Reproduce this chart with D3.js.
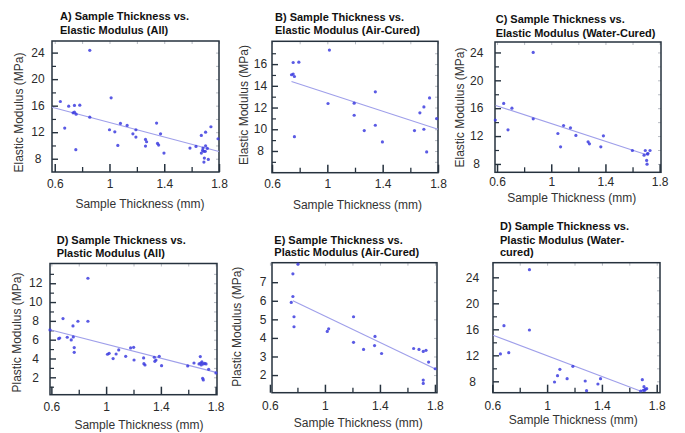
<!DOCTYPE html>
<html>
<head>
<meta charset="utf-8">
<script src="https://cdn.jsdelivr.net/npm/d3@7"></script>
<style>
  html, body { margin: 0; padding: 0; background: #fff; }
  svg { display: block; font-family: "Liberation Sans", Arial, sans-serif; }
</style>
</head>
<body>
<svg id="chart" width="685" height="433"></svg>
<script>
// ---------------- DATA ----------------
const xTickValues = [0.6, 1.0, 1.4, 1.8];
const xTickLabels = ["0.6", "1", "1.4", "1.8"];
const xMinorTicks = [0.8, 1.2, 1.6];

// A) Elastic modulus, all samples
const thickA = [0.856,0.641,0.673,0.702,0.744,0.783,0.734,0.744,0.756,0.754,0.856,1.012,1.000,1.039,1.061,1.080,1.129,1.171,1.193,1.193,1.263,1.271,1.263,1.344,1.351,1.359,1.373,1.398,1.588,1.632,1.671,1.702,1.741,1.793,1.671,1.683,1.702,1.715,1.690,1.700,1.693,1.690,1.722,1.680];
const elasticA = [24.35,16.63,12.62,15.93,16.03,16.08,14.92,15.02,14.72,9.36,14.27,17.18,12.37,12.06,10.01,13.32,13.02,11.76,12.37,11.26,10.91,10.56,9.91,13.37,10.31,10.06,11.76,8.85,9.61,9.86,11.51,12.01,12.82,11.01,8.85,9.61,9.96,9.56,9.11,9.11,8.10,7.50,7.90,9.26];
const fitA = [[0.58, 15.75], [1.8, 9.1]];

// B) Elastic modulus, air-cured
const thickB = [0.753,0.794,1.015,0.741,0.753,0.762,0.762,1.005,1.194,1.194,1.347,1.347,1.267,1.398,1.630,1.698,1.669,1.698,1.739,1.790,1.718];
const elasticB = [16.15,16.18,17.29,15.02,15.08,14.86,9.32,12.37,12.40,11.29,13.45,10.37,9.88,8.83,9.88,10.00,11.51,12.06,12.89,10.98,7.91];
const fitB = [[0.741, 14.4], [1.8, 10.0]];

// C) Elastic modulus, water-cured
const thickC = [0.867,0.649,0.710,0.587,0.681,0.867,1.091,1.142,1.049,1.182,1.069,1.272,1.282,1.366,1.385,1.599,1.685,1.694,1.714,1.729,1.704,1.707,1.709];
const elasticC = [24.0,16.68,16.01,14.29,12.90,14.48,13.52,13.19,12.37,12.09,10.46,11.18,10.89,10.46,12.04,9.93,9.26,9.93,9.50,9.93,8.50,7.97,9.45];
const fitC = [[0.59, 16.4], [1.72, 9.2]];

// D) Plastic modulus, all samples
const thickD = [0.867,0.685,0.794,0.867,0.758,0.590,0.653,0.661,0.716,0.745,0.760,0.767,0.767,1.010,1.022,1.051,1.073,1.092,1.143,1.179,1.201,1.204,1.274,1.276,1.284,1.352,1.364,1.356,1.388,1.405,1.596,1.642,1.688,1.679,1.691,1.700,1.710,1.720,1.730,1.705,1.710,1.749,1.802,1.695];
const plasticD = [12.53,8.24,7.96,7.96,7.46,7.04,6.11,6.18,6.26,5.97,6.29,5.16,4.66,4.45,4.55,3.99,4.48,4.91,4.23,5.12,5.19,3.84,4.06,3.45,3.31,4.13,3.84,3.70,4.23,3.24,3.21,3.52,4.20,3.42,3.52,3.63,3.42,3.49,3.42,1.89,1.72,2.85,2.46,3.31];
const fitD = [[0.59, 7.05], [1.81, 2.5]];

// E) Plastic modulus, air-cured
const thickE = [0.804,0.767,0.767,0.755,0.775,0.775,1.017,1.027,1.208,1.208,1.281,1.364,1.361,1.412,1.645,1.684,1.715,1.735,1.754,1.802,1.715,1.715];
const plasticE = [7.97,7.45,6.23,5.91,5.14,4.60,4.35,4.49,5.14,3.76,3.38,4.08,3.59,3.16,3.43,3.38,3.27,3.33,2.70,2.34,1.73,1.55];
const fitE = [[0.767, 6.0], [1.8, 2.34]];

// F) Plastic modulus, water-cured
const thickF = [0.871,0.871,0.685,0.659,0.720,1.093,1.076,1.054,1.146,1.188,1.278,1.288,1.371,1.390,1.695,1.683,1.707,1.717,1.702,1.727,1.712];
const plasticF = [25.18,15.90,16.56,12.21,12.41,9.85,8.87,7.90,8.41,10.31,8.05,6.56,7.59,8.41,8.26,6.51,7.18,6.82,6.62,6.87,6.62];
const fitF = [[0.605, 15.1], [1.68, 6.5]];

// y ticks
const yTicksElasticWide = [8, 12, 16, 20, 24];
const yMinorElasticWide = [10, 14, 18, 22];
const yTicksElasticAir = [8, 10, 12, 14, 16];
const yMinorElasticAir = [7, 9, 11, 13, 15, 17];
const yTicksPlasticAll = [2, 4, 6, 8, 10, 12];
const yMinorPlasticAll = [1, 3, 5, 7, 9, 11, 13];
const yTicksPlasticAir = [2, 3, 4, 5, 6, 7];
const yMinorPlasticAir = [];

// titles / labels
const titlesA = ["A) Sample Thickness vs.", "Elastic Modulus (All)"];
const titlesB = ["B) Sample Thickness vs.", "Elastic Modulus (Air-Cured)"];
const titlesC = ["C) Sample Thickness vs.", "Elastic Modulus (Water-Cured)"];
const titlesD = ["D) Sample Thickness vs.", "Plastic Modulus (All)"];
const titlesE = ["E) Sample Thickness vs.", "Plastic Modulus (Air-Cured)"];
const titlesF = ["D) Sample Thickness vs.", "Plastic Modulus (Water-", "cured)"];
const xAxisTitle = "Sample Thickness (mm)";
const yTitleElastic = "Elastic Modulus (MPa)";
const yTitlePlastic = "Plastic Modulus (MPa)";

// ---------------- LAYOUT ----------------
const panels = [
  { xs: thickA, ys: elasticA, fit: fitA, titles: titlesA, yTitle: yTitleElastic,
    box: [52, 41, 219, 172], xDom: [0.58, 1.8], yDom: [6.0, 25.75],
    yMajor: yTicksElasticWide, yMinor: yMinorElasticWide,
    titleX: 60, titleY: [19.6, 33.6], yLabX: 38, xLabBase: 187.5,
    xTitle: [140, 207.5], yTitle2: [18.3, 112.5] },
  { xs: thickB, ys: elasticB, fit: fitB, titles: titlesB, yTitle: yTitleElastic,
    box: [272, 41.3, 438, 172.7], xDom: [0.6, 1.8], yDom: [6.0, 18.1],
    yMajor: yTicksElasticAir, yMinor: yMinorElasticAir,
    titleX: 275, titleY: [20.6, 34.2], yLabX: 260.5, xLabBase: 188,
    xTitle: [357.5, 208.5], yTitle2: [243.3, 105] },
  { xs: thickC, ys: elasticC, fit: fitC, titles: titlesC, yTitle: yTitleElastic,
    box: [495, 42, 661, 172.3], xDom: [0.585, 1.81], yDom: [6.8, 25.5],
    yMajor: yTicksElasticWide, yMinor: yMinorElasticWide,
    titleX: 495.7, titleY: [23, 37.2], yLabX: 476.7, xLabBase: 186.5,
    xTitle: [571.7, 202], yTitle2: [460, 107.5] },
  { xs: thickD, ys: plasticD, fit: fitD, titles: titlesD, yTitle: yTitlePlastic,
    box: [50, 263.5, 217, 394.7], xDom: [0.59, 1.81], yDom: [0.15, 14.1],
    yMajor: yTicksPlasticAll, yMinor: yMinorPlasticAll,
    titleX: 56.7, titleY: [244.2, 257], yLabX: 35.7, xLabBase: 411.3,
    xTitle: [139, 429], yTitle2: [16.7, 332.5] },
  { xs: thickE, ys: plasticE, fit: fitE, titles: titlesE, yTitle: yTitlePlastic,
    box: [272, 262.7, 437, 392.7], xDom: [0.615, 1.815], yDom: [1.05, 8.05],
    yMajor: yTicksPlasticAir, yMinor: yMinorPlasticAir,
    titleX: 274.3, titleY: [243.6, 256.2], yLabX: 263, xLabBase: 409.7,
    xTitle: [358.3, 427], yTitle2: [236.7, 326.7] },
  { xs: thickF, ys: plasticF, fit: fitF, titles: titlesF, yTitle: null,
    box: [493, 262.7, 660, 392.7], xDom: [0.605, 1.824], yDom: [6.25, 26.25],
    yMajor: yTicksElasticWide, yMinor: yMinorElasticWide,
    titleX: 500, titleY: [230.2, 244.2, 256.2], yLabX: 472.5, xLabBase: 410.3,
    xTitle: [573.3, 423.7], yTitle2: null }
];

const svg = d3.select("#chart");
const frameColor = "#26323e";
const dotColor = "#3d3ddf";
const fitColor = "#9f9fea";
const textColor = "#2a2a2a";

panels.forEach(p => {
  const [x0, y0, x1, y1] = p.box;
  const x = d3.scaleLinear().domain(p.xDom).range([x0, x1]);
  const y = d3.scaleLinear().domain(p.yDom).range([y1, y0]);
  const g = svg.append("g");

  // Titles
  p.titles.forEach((t, i) => {
    g.append("text").attr("x", p.titleX).attr("y", p.titleY[i])
      .attr("font-size", 11).attr("font-weight", "bold").attr("fill", "#111")
      .text(t);
  });

  // mirror ticks (faint) on top and right
  g.append("g").attr("transform", `translate(0,${y0})`)
    .call(d3.axisTop(x).tickValues(xTickValues.concat(xMinorTicks)).tickSize(-3).tickFormat(""))
    .call(a => a.select(".domain").remove())
    .call(a => a.selectAll("line").attr("stroke", "#b8bcc4").attr("stroke-width", 1));
  g.append("g").attr("transform", `translate(${x1},0)`)
    .call(d3.axisRight(y).tickValues(p.yMajor.concat(p.yMinor)).tickSize(-3).tickFormat(""))
    .call(a => a.select(".domain").remove())
    .call(a => a.selectAll("line").attr("stroke", "#b8bcc4").attr("stroke-width", 1));

  // Bottom axis: major ticks with labels, minor ticks
  const bx = g.append("g").attr("transform", `translate(0,${y1})`)
    .call(d3.axisBottom(x).tickValues(xTickValues).tickSize(-8)
      .tickFormat((d, i) => xTickLabels[i]).tickPadding(0));
  bx.select(".domain").remove();
  bx.selectAll("line").attr("stroke", frameColor).attr("stroke-width", 1.5);
  bx.selectAll("text").attr("font-size", 12).attr("fill", textColor)
    .attr("font-family", "Liberation Sans, Arial, sans-serif")
    .attr("y", p.xLabBase - y1).attr("dy", 0);
  const bm = g.append("g").attr("transform", `translate(0,${y1})`)
    .call(d3.axisBottom(x).tickValues(xMinorTicks).tickSize(-5).tickFormat(""));
  bm.select(".domain").remove();
  bm.selectAll("line").attr("stroke", frameColor).attr("stroke-width", 1.3);

  // Left axis ticks
  const ly = g.append("g").attr("transform", `translate(${x0},0)`)
    .call(d3.axisLeft(y).tickValues(p.yMajor).tickSize(-6).tickFormat(""));
  ly.select(".domain").remove();
  ly.selectAll("line").attr("stroke", frameColor).attr("stroke-width", 1.4);
  const lm = g.append("g").attr("transform", `translate(${x0},0)`)
    .call(d3.axisLeft(y).tickValues(p.yMinor).tickSize(-4).tickFormat(""));
  lm.select(".domain").remove();
  lm.selectAll("line").attr("stroke", frameColor).attr("stroke-width", 1.2);

  // Left tick labels (centered)
  g.selectAll("text.ylab").data(p.yMajor).enter().append("text")
    .attr("class", "ylab")
    .attr("x", p.yLabX).attr("y", d => y(d)).attr("dy", "0.35em")
    .attr("text-anchor", "middle").attr("font-size", 12).attr("fill", textColor)
    .text(d => String(d));

  // Frame
  g.append("rect").attr("x", x0).attr("y", y0)
    .attr("width", x1 - x0).attr("height", y1 - y0)
    .attr("fill", "none").attr("stroke", frameColor).attr("stroke-width", 1.5);

  // Fit line
  g.append("path").datum(p.fit)
    .attr("d", d3.line().x(d => x(d[0])).y(d => y(d[1])))
    .attr("fill", "none").attr("stroke", fitColor).attr("stroke-width", 1.1);

  // Points
  g.selectAll("circle.pt").data(p.xs.map((v, i) => [v, p.ys[i]])).enter()
    .append("circle").attr("class", "pt")
    .attr("cx", d => x(d[0])).attr("cy", d => y(d[1])).attr("r", 1.6)
    .attr("fill", dotColor).attr("fill-opacity", 0.85);

  // Axis titles
  g.append("text").attr("x", p.xTitle[0]).attr("y", p.xTitle[1])
    .attr("text-anchor", "middle").attr("font-size", 12).attr("fill", "#333")
    .text(xAxisTitle);
  if (p.yTitle) {
    g.append("text")
      .attr("transform", `translate(${p.yTitle2[0]},${p.yTitle2[1]}) rotate(-90)`)
      .attr("text-anchor", "middle").attr("dy", "0.35em")
      .attr("font-size", 12).attr("fill", "#333")
      .text(p.yTitle);
  }
});
</script>
</body>
</html>
